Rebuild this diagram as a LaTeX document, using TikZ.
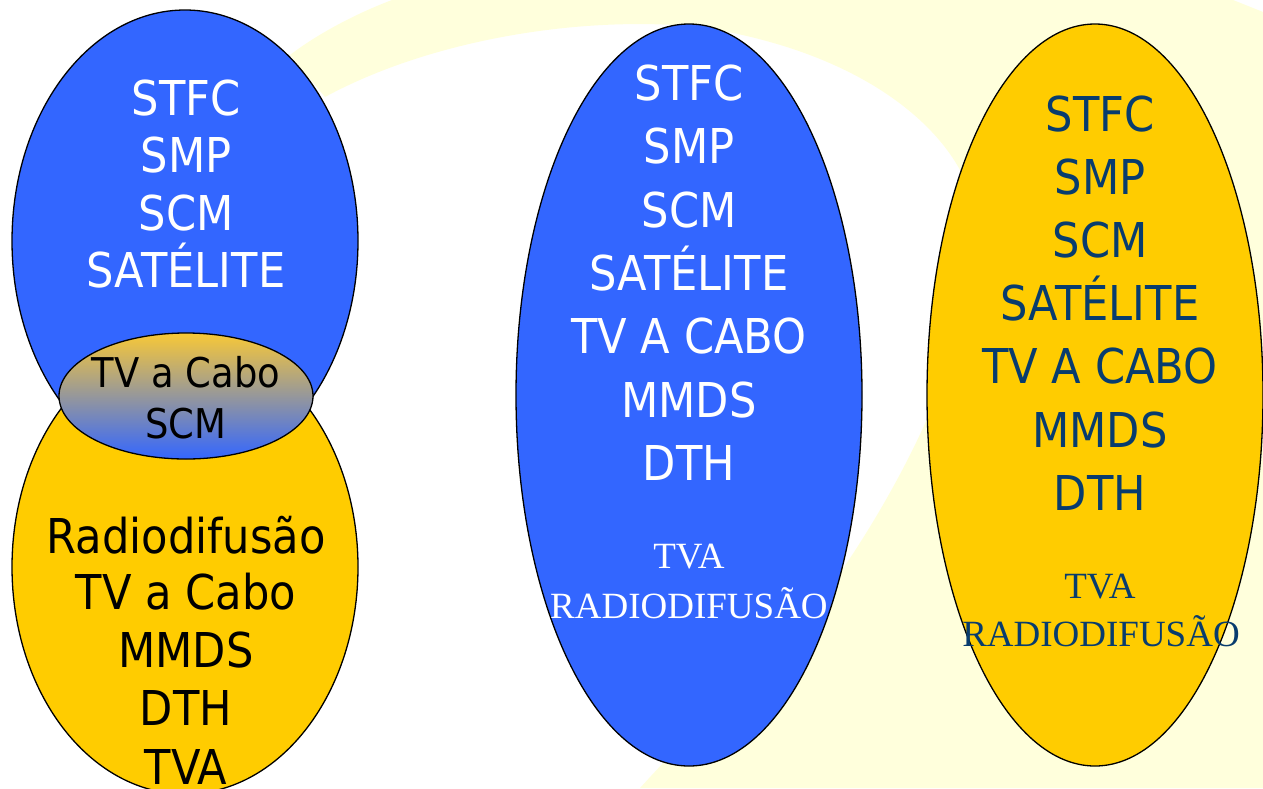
\documentclass[tikz,border=0pt]{standalone}
\usepackage{fontspec}
\newfontfamily\tah{DejaVu Sans}[FakeStretch=0.9]
\newfontfamily\tnr{Liberation Serif}
\definecolor{bblue}{RGB}{51,102,255}
\definecolor{byel}{RGB}{255,204,0}
\definecolor{pyel}{RGB}{255,255,220}
\definecolor{gtop}{RGB}{248,200,55}
\definecolor{gmid}{RGB}{195,162,178}
\definecolor{dkblue}{RGB}{8,60,110}
\tikzset{
  oval/.style={draw=black, line width=1.3pt},
  big/.style={font=\tah\fontsize{48}{48}\selectfont, anchor=base, inner sep=0pt},
  mid/.style={font=\tah\fontsize{41}{41}\selectfont, anchor=base, inner sep=0pt},
  ser/.style={font=\tnr\fontsize{37}{37}\selectfont, anchor=base, inner sep=0pt}
}
\begin{document}
\begin{tikzpicture}[x=1pt,y=-1pt]
\useasboundingbox (0,0) rectangle (1263,788);
\clip (0,0) rectangle (1263,788);
\fill[white] (0,0) rectangle (1263,788);
% pale background band
\fill[pyel] (290,55) .. controls (320,32) and (360,12) .. (392,0) -- (1233,0) -- (1263,12) -- (1263,788) -- (640,788)
  .. controls (720,700) and (800,630) .. (840,573)
  .. controls (880,515) and (915,450) .. (935,400)
  .. controls (970,320) and (985,230) .. (960,170)
  .. controls (930,115) and (850,50) .. (700,27)
  .. controls (580,15) and (430,40) .. (325,97) -- cycle;
% left ellipses
\draw[oval, fill=bblue] (185,241) ellipse [x radius=173pt, y radius=231pt];
\draw[oval, fill=byel] (185,567) ellipse [x radius=173pt, y radius=227pt];
\shade[top color=gtop, middle color=gmid, bottom color=bblue] (186,396) ellipse [x radius=127pt, y radius=63pt];
\draw[oval] (186,396) ellipse [x radius=127pt, y radius=63pt];
% middle and right ellipses
\draw[oval, fill=bblue] (689,395) ellipse [x radius=173pt, y radius=371pt];
\draw[oval, fill=byel] (1095,395) ellipse [x radius=168pt, y radius=371pt];
% left blue texts
\node[big, white] (l1) at (186,115) {STFC};
\node[big, white] (l2) at (186,172) {SMP};
\node[big, white] (l3) at (186,230) {SCM};
\node[big, white] (l4) at (186,287) {SATÉLITE};
% overlap texts
\node[mid, black] (o1) at (186,387) {TV a Cabo};
\node[mid, black] (o2) at (186,438) {SCM};
% left yellow texts
\node[big, black] (y1) at (186,553) {Radiodifusão};
\node[big, black] (y2) at (186,609) {TV a Cabo};
\node[big, black] (y3) at (186,667) {MMDS};
\node[big, black] (y4) at (186,725) {DTH};
\node[big, black] (y5) at (186,784) {TVA};
% middle texts
\node[big, white] (m1) at (689,100) {STFC};
\node[big, white] (m2) at (689,163) {SMP};
\node[big, white] (m3) at (689,227) {SCM};
\node[big, white] (m4) at (689,290) {SATÉLITE};
\node[big, white] (m5) at (689,353) {TV A CABO};
\node[big, white] (m6) at (689,417) {MMDS};
\node[big, white] (m7) at (689,480) {DTH};
\node[ser, white] (m8) at (689,568) {TVA};
\node[ser, white] (m9) at (689,618) {RADIODIFUSÃO};
% right texts
\node[big, dkblue] (r1) at (1100,131) {STFC};
\node[big, dkblue] (r2) at (1100,194) {SMP};
\node[big, dkblue] (r3) at (1100,257) {SCM};
\node[big, dkblue] (r4) at (1100,320) {SATÉLITE};
\node[big, dkblue] (r5) at (1100,383) {TV A CABO};
\node[big, dkblue] (r6) at (1100,447) {MMDS};
\node[big, dkblue] (r7) at (1100,510) {DTH};
\node[ser, dkblue] (r8) at (1100,598) {TVA};
\node[ser, dkblue] (r9) at (1101,646) {RADIODIFUSÃO};
\end{tikzpicture}
\end{document}
